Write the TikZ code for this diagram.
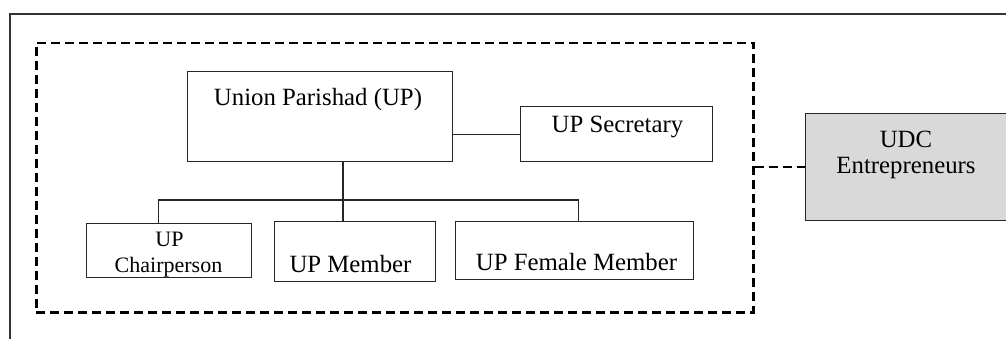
\documentclass[tikz,border=0pt]{standalone}
\usepackage{fontspec}
\setmainfont{Liberation Serif}
\usetikzlibrary{positioning, calc}
\definecolor{udcgray}{HTML}{D9D9D9}
\definecolor{framegray}{HTML}{333333}
\definecolor{linegray}{HTML}{262626}

\begin{document}
\begin{tikzpicture}[x=1pt, y=-1pt,
    orgbox/.style={draw=linegray, line width=1.3pt, inner sep=0pt, anchor=north west},
    zoneline/.style={draw=black, line width=2.5pt, dash pattern=on 9pt off 5pt},
    orglabel/.style={anchor=base, font=\fontsize{24.8}{28}\selectfont},
    smalllabel/.style={anchor=base, font=\fontsize{22}{26}\selectfont}]
  \useasboundingbox (0,0) rectangle (1006,338);
  \clip (0,0) rectangle (1006,338);

  % outer frame, cut by the page edge
  \draw[framegray, line width=2.6pt] (10,360) -- (10,14) -- (1030,14);

  % boundary of the union parishad
  \node[zoneline, inner sep=0pt, minimum width=717pt, minimum height=269.5pt,
        anchor=north west] (upzone) at (35,41.5) {};

  \node[orgbox, minimum width=265pt, minimum height=90pt] (upbox) at (187,71) {};
  \node[orglabel] (uptext) at (318,105) {Union Parishad (UP)};

  \node[orgbox, minimum width=192pt, minimum height=55pt] (secbox) at (520,106) {};
  \node[orglabel] (sectext) at (617.5,132) {UP Secretary};

  \node[orgbox, minimum width=165pt, minimum height=54pt] (chairbox) at (86,223) {};
  \node[smalllabel] (chairtext) at (169.5,246) {UP};
  \node[smalllabel] (chairtext2) at (168.5,272) {Chairperson};

  \node[orgbox, minimum width=161pt, minimum height=60pt] (memberbox) at (274,221) {};
  \node[orglabel] (membertext) at (350.5,272) {UP Member};

  \node[orgbox, minimum width=238pt, minimum height=58pt] (femalebox) at (455,221) {};
  \node[orglabel] (femaletext) at (576.5,270) {UP Female Member};

  \node[orgbox, fill=udcgray, minimum width=210pt, minimum height=107pt] (udcbox) at (805,113) {};
  \node[orglabel] (udctext) at (906,147) {UDC};
  \node[orglabel] (udctext2) at (906,173) {Entrepreneurs};

  % links
  \draw[linegray, line width=1.3pt] (secbox.west -| upbox.east) -- (secbox.west);
  \coordinate (fork) at (343,200);
  \draw[linegray, line width=1.3pt] (fork |- upbox.south) -- (fork) -- (fork |- memberbox.north);
  \draw[linegray, line width=1.3pt] ([xshift=-10.5pt]chairbox.north) |- (fork)
    -| ([xshift=3.5pt]femalebox.north);
  \draw[zoneline] (udcbox.west -| upzone.east) -- (udcbox.west);
\end{tikzpicture}
\end{document}
